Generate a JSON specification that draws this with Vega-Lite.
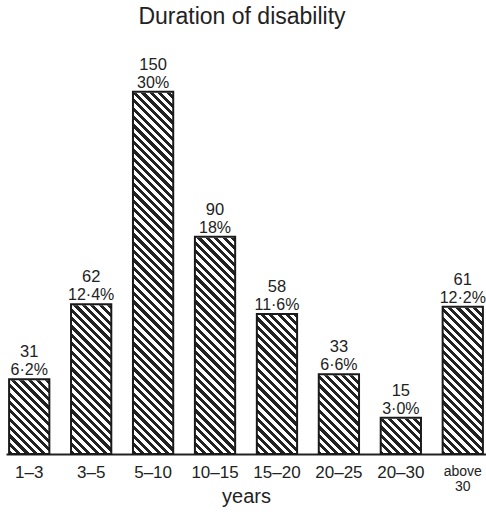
{
  "$schema": "https://vega.github.io/schema/vega-lite/v6.json",
  "width": 480,
  "height": 425,
  "autosize": {"type": "none"},
  "padding": {"left": 6, "top": 29, "right": 0, "bottom": 58},
  "background": "white",
  "config": {"view": {"stroke": null}, "font": "Liberation Sans"},
  "title": {"text": "Duration of disability", "fontSize": 23, "fontWeight": "normal", "font": "Liberation Sans", "color": "#222", "anchor": "middle", "offset": 0, "dx": -4},
  "data": {"values": [
    {"range": "1–3", "count": 31, "pct": "6·2%"},
    {"range": "3–5", "count": 62, "pct": "12·4%"},
    {"range": "5–10", "count": 150, "pct": "30%"},
    {"range": "10–15", "count": 90, "pct": "18%"},
    {"range": "15–20", "count": 58, "pct": "11·6%"},
    {"range": "20–25", "count": 33, "pct": "6·6%"},
    {"range": "20–30", "count": 15, "pct": "3·0%"},
    {"range": "above 30", "count": 61, "pct": "12·2%"}
  ]},
  "encoding": {
    "x": {"field": "range", "type": "nominal", "sort": null,
      "scale": {"paddingInner": 0.35, "paddingOuter": 0.05},
      "axis": {"title": "years", "titleFontSize": 20, "titleFontWeight": "normal", "titleFont": "Liberation Sans", "titleColor": "#222", "titleBaseline": "alphabetic", "titleY": 48,
        "labelAngle": 0, "labelFont": "Liberation Sans", "labelColor": "#222", "labelPadding": 10, "labelBaseline": "top", "labelLineHeight": 15,
        "labelFontSize": {"condition": {"test": "datum.value == 'above 30'", "value": 14}, "value": 17},
        "labelExpr": "datum.value == 'above 30' ? ['above', '30'] : datum.value",
        "ticks": false, "tickSize": 0, "domainColor": "#222", "domainWidth": 2, "labelOverlap": false, "grid": false}
    }
  },
  "layer": [
    {
      "mark": {"type": "bar", "fill": {"gradient": "linear", "x1": 0, "y1": 1, "x2": 0.12199, "y2": -0.0976, "stops": [
        {"offset":0,"color":"#222"},
        {"offset":0.01042,"color":"#222"},{"offset":0.01042,"color":"#fff"},
        {"offset":0.02083,"color":"#fff"},{"offset":0.02083,"color":"#222"},
        {"offset":0.03125,"color":"#222"},{"offset":0.03125,"color":"#fff"},
        {"offset":0.04167,"color":"#fff"},{"offset":0.04167,"color":"#222"},
        {"offset":0.05208,"color":"#222"},{"offset":0.05208,"color":"#fff"},
        {"offset":0.0625,"color":"#fff"},{"offset":0.0625,"color":"#222"},
        {"offset":0.07292,"color":"#222"},{"offset":0.07292,"color":"#fff"},
        {"offset":0.08333,"color":"#fff"},{"offset":0.08333,"color":"#222"},
        {"offset":0.09375,"color":"#222"},{"offset":0.09375,"color":"#fff"},
        {"offset":0.10417,"color":"#fff"},{"offset":0.10417,"color":"#222"},
        {"offset":0.11458,"color":"#222"},{"offset":0.11458,"color":"#fff"},
        {"offset":0.125,"color":"#fff"},{"offset":0.125,"color":"#222"},
        {"offset":0.13542,"color":"#222"},{"offset":0.13542,"color":"#fff"},
        {"offset":0.14583,"color":"#fff"},{"offset":0.14583,"color":"#222"},
        {"offset":0.15625,"color":"#222"},{"offset":0.15625,"color":"#fff"},
        {"offset":0.16667,"color":"#fff"},{"offset":0.16667,"color":"#222"},
        {"offset":0.17708,"color":"#222"},{"offset":0.17708,"color":"#fff"},
        {"offset":0.1875,"color":"#fff"},{"offset":0.1875,"color":"#222"},
        {"offset":0.19792,"color":"#222"},{"offset":0.19792,"color":"#fff"},
        {"offset":0.20833,"color":"#fff"},{"offset":0.20833,"color":"#222"},
        {"offset":0.21875,"color":"#222"},{"offset":0.21875,"color":"#fff"},
        {"offset":0.22917,"color":"#fff"},{"offset":0.22917,"color":"#222"},
        {"offset":0.23958,"color":"#222"},{"offset":0.23958,"color":"#fff"},
        {"offset":0.25,"color":"#fff"},{"offset":0.25,"color":"#222"},
        {"offset":0.26042,"color":"#222"},{"offset":0.26042,"color":"#fff"},
        {"offset":0.27083,"color":"#fff"},{"offset":0.27083,"color":"#222"},
        {"offset":0.28125,"color":"#222"},{"offset":0.28125,"color":"#fff"},
        {"offset":0.29167,"color":"#fff"},{"offset":0.29167,"color":"#222"},
        {"offset":0.30208,"color":"#222"},{"offset":0.30208,"color":"#fff"},
        {"offset":0.3125,"color":"#fff"},{"offset":0.3125,"color":"#222"},
        {"offset":0.32292,"color":"#222"},{"offset":0.32292,"color":"#fff"},
        {"offset":0.33333,"color":"#fff"},{"offset":0.33333,"color":"#222"},
        {"offset":0.34375,"color":"#222"},{"offset":0.34375,"color":"#fff"},
        {"offset":0.35417,"color":"#fff"},{"offset":0.35417,"color":"#222"},
        {"offset":0.36458,"color":"#222"},{"offset":0.36458,"color":"#fff"},
        {"offset":0.375,"color":"#fff"},{"offset":0.375,"color":"#222"},
        {"offset":0.38542,"color":"#222"},{"offset":0.38542,"color":"#fff"},
        {"offset":0.39583,"color":"#fff"},{"offset":0.39583,"color":"#222"},
        {"offset":0.40625,"color":"#222"},{"offset":0.40625,"color":"#fff"},
        {"offset":0.41667,"color":"#fff"},{"offset":0.41667,"color":"#222"},
        {"offset":0.42708,"color":"#222"},{"offset":0.42708,"color":"#fff"},
        {"offset":0.4375,"color":"#fff"},{"offset":0.4375,"color":"#222"},
        {"offset":0.44792,"color":"#222"},{"offset":0.44792,"color":"#fff"},
        {"offset":0.45833,"color":"#fff"},{"offset":0.45833,"color":"#222"},
        {"offset":0.46875,"color":"#222"},{"offset":0.46875,"color":"#fff"},
        {"offset":0.47917,"color":"#fff"},{"offset":0.47917,"color":"#222"},
        {"offset":0.48958,"color":"#222"},{"offset":0.48958,"color":"#fff"},
        {"offset":0.5,"color":"#fff"},{"offset":0.5,"color":"#222"},
        {"offset":0.51042,"color":"#222"},{"offset":0.51042,"color":"#fff"},
        {"offset":0.52083,"color":"#fff"},{"offset":0.52083,"color":"#222"},
        {"offset":0.53125,"color":"#222"},{"offset":0.53125,"color":"#fff"},
        {"offset":0.54167,"color":"#fff"},{"offset":0.54167,"color":"#222"},
        {"offset":0.55208,"color":"#222"},{"offset":0.55208,"color":"#fff"},
        {"offset":0.5625,"color":"#fff"},{"offset":0.5625,"color":"#222"},
        {"offset":0.57292,"color":"#222"},{"offset":0.57292,"color":"#fff"},
        {"offset":0.58333,"color":"#fff"},{"offset":0.58333,"color":"#222"},
        {"offset":0.59375,"color":"#222"},{"offset":0.59375,"color":"#fff"},
        {"offset":0.60417,"color":"#fff"},{"offset":0.60417,"color":"#222"},
        {"offset":0.61458,"color":"#222"},{"offset":0.61458,"color":"#fff"},
        {"offset":0.625,"color":"#fff"},{"offset":0.625,"color":"#222"},
        {"offset":0.63542,"color":"#222"},{"offset":0.63542,"color":"#fff"},
        {"offset":0.64583,"color":"#fff"},{"offset":0.64583,"color":"#222"},
        {"offset":0.65625,"color":"#222"},{"offset":0.65625,"color":"#fff"},
        {"offset":0.66667,"color":"#fff"},{"offset":0.66667,"color":"#222"},
        {"offset":0.67708,"color":"#222"},{"offset":0.67708,"color":"#fff"},
        {"offset":0.6875,"color":"#fff"},{"offset":0.6875,"color":"#222"},
        {"offset":0.69792,"color":"#222"},{"offset":0.69792,"color":"#fff"},
        {"offset":0.70833,"color":"#fff"},{"offset":0.70833,"color":"#222"},
        {"offset":0.71875,"color":"#222"},{"offset":0.71875,"color":"#fff"},
        {"offset":0.72917,"color":"#fff"},{"offset":0.72917,"color":"#222"},
        {"offset":0.73958,"color":"#222"},{"offset":0.73958,"color":"#fff"},
        {"offset":0.75,"color":"#fff"},{"offset":0.75,"color":"#222"},
        {"offset":0.76042,"color":"#222"},{"offset":0.76042,"color":"#fff"},
        {"offset":0.77083,"color":"#fff"},{"offset":0.77083,"color":"#222"},
        {"offset":0.78125,"color":"#222"},{"offset":0.78125,"color":"#fff"},
        {"offset":0.79167,"color":"#fff"},{"offset":0.79167,"color":"#222"},
        {"offset":0.80208,"color":"#222"},{"offset":0.80208,"color":"#fff"},
        {"offset":0.8125,"color":"#fff"},{"offset":0.8125,"color":"#222"},
        {"offset":0.82292,"color":"#222"},{"offset":0.82292,"color":"#fff"},
        {"offset":0.83333,"color":"#fff"},{"offset":0.83333,"color":"#222"},
        {"offset":0.84375,"color":"#222"},{"offset":0.84375,"color":"#fff"},
        {"offset":0.85417,"color":"#fff"},{"offset":0.85417,"color":"#222"},
        {"offset":0.86458,"color":"#222"},{"offset":0.86458,"color":"#fff"},
        {"offset":0.875,"color":"#fff"},{"offset":0.875,"color":"#222"},
        {"offset":0.88542,"color":"#222"},{"offset":0.88542,"color":"#fff"},
        {"offset":0.89583,"color":"#fff"},{"offset":0.89583,"color":"#222"},
        {"offset":0.90625,"color":"#222"},{"offset":0.90625,"color":"#fff"},
        {"offset":0.91667,"color":"#fff"},{"offset":0.91667,"color":"#222"},
        {"offset":0.92708,"color":"#222"},{"offset":0.92708,"color":"#fff"},
        {"offset":0.9375,"color":"#fff"},{"offset":0.9375,"color":"#222"},
        {"offset":0.94792,"color":"#222"},{"offset":0.94792,"color":"#fff"},
        {"offset":0.95833,"color":"#fff"},{"offset":0.95833,"color":"#222"},
        {"offset":0.96875,"color":"#222"},{"offset":0.96875,"color":"#fff"},
        {"offset":0.97917,"color":"#fff"},{"offset":0.97917,"color":"#222"},
        {"offset":0.98958,"color":"#222"},{"offset":0.98958,"color":"#fff"},
        {"offset":1,"color":"#fff"}
      ]}},
      "encoding": {
        "y": {"datum": 150, "type": "quantitative", "scale": {"domain": [0, 176], "nice": false}, "axis": null},
        "y2": {"datum": 0}
      }
    },
    {
      "mark": {"type": "bar", "fill": "white", "stroke": "white", "strokeWidth": 2},
      "encoding": {
        "y": {"field": "count", "type": "quantitative"},
        "y2": {"datum": 150}
      }
    },
    {
      "mark": {"type": "bar", "fill": "transparent", "stroke": "#1a1a1a", "strokeWidth": 2},
      "encoding": {
        "y": {"field": "count", "type": "quantitative"}
      }
    },
    {
      "mark": {"type": "text", "fontSize": 16.5, "font": "Liberation Sans", "color": "#222", "baseline": "alphabetic", "dy": -22},
      "encoding": {
        "y": {"field": "count", "type": "quantitative"},
        "text": {"field": "count", "type": "quantitative"}
      }
    },
    {
      "mark": {"type": "text", "fontSize": 16, "font": "Liberation Sans", "color": "#222", "baseline": "alphabetic", "dy": -4},
      "encoding": {
        "y": {"field": "count", "type": "quantitative"},
        "text": {"field": "pct", "type": "nominal"}
      }
    }
  ]
}
